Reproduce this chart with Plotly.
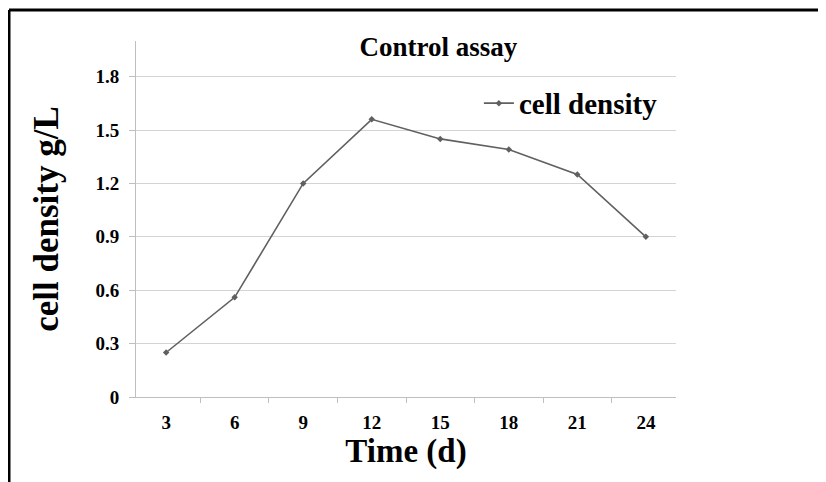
import plotly.graph_objects as go

days = ["3", "6", "9", "12", "15", "18", "21", "24"]
cell_density = [0.25, 0.56, 1.20, 1.56, 1.45, 1.39, 1.25, 0.90]
y_ticks = [0, 0.3, 0.6, 0.9, 1.2, 1.5, 1.8]
y_tick_labels = ["0", "0.3", "0.6", "0.9", "1.2", "1.5", "1.8"]

FONT = "Liberation Serif"

L, R, T, B = 128, 158, 33, 93
PW = 826 - L - R
PH = 482 - T - B

fig = go.Figure()
fig.add_trace(go.Scatter(
    x=days, y=cell_density, mode="lines+markers", name="<b>cell density</b>",
    line=dict(color="#606060", width=1.6),
    marker=dict(symbol="diamond", size=5, color="#606060"),
))

fig.update_layout(
    width=826, height=482,
    margin=dict(l=L, r=R, t=T, b=B, autoexpand=False),
    paper_bgcolor="white", plot_bgcolor="white",
    title=dict(text="<b>Control assay</b>", x=0.56, xref="paper", xanchor="center",
               y=0.919, yanchor="middle",
               font=dict(family=FONT, size=27, color="black")),
    showlegend=True,
    legend=dict(x=0.635, y=0.825, xanchor="left", yanchor="middle",
                bgcolor="rgba(0,0,0,0)", itemwidth=30,
                font=dict(family=FONT, size=29, color="black")),
    font=dict(family=FONT, color="black"),
)

fig.update_xaxes(
    type="category", tickmode="array", tickvals=days,
    ticktext=["<b>%s</b>" % d for d in days],
    tickfont=dict(family=FONT, size=19, color="black"),
    showline=True, linecolor="#bfbfbf", linewidth=1,
    ticks="outside", tickson="boundaries", ticklen=5, tickcolor="#bfbfbf",
    ticklabelstandoff=8,
    showgrid=False, zeroline=False, automargin=False,
    title=dict(text="<b>Time (d)</b>", font=dict(family=FONT, size=33, color="black"),
               standoff=6),
)
fig.update_yaxes(
    range=[0, 2.0], tickmode="array", tickvals=y_ticks,
    ticktext=["<b>%s</b>" % t for t in y_tick_labels],
    tickfont=dict(family=FONT, size=19, color="black"),
    showline=True, linecolor="#bfbfbf", linewidth=1,
    ticks="outside", ticklen=6, tickcolor="#bfbfbf",
    ticklabelstandoff=6,
    showgrid=True, gridcolor="#d4d4d4", gridwidth=1, zeroline=False, automargin=False,
    title=dict(text="<b>cell density g/L</b>", font=dict(family=FONT, size=35, color="black"),
               standoff=26),
)

# outer frame (top and left edges visible)
fx = (1 - L) / PW
fy = (482 - B - 2) / PH
fig.add_shape(type="line", xref="paper", yref="paper",
              x0=fx, x1=1.4, y0=fy, y1=fy,
              line=dict(color="black", width=3))
fig.add_shape(type="line", xref="paper", yref="paper",
              x0=fx, x1=fx, y0=fy, y1=-0.35,
              line=dict(color="black", width=3))

fig.write_html("out.html")
